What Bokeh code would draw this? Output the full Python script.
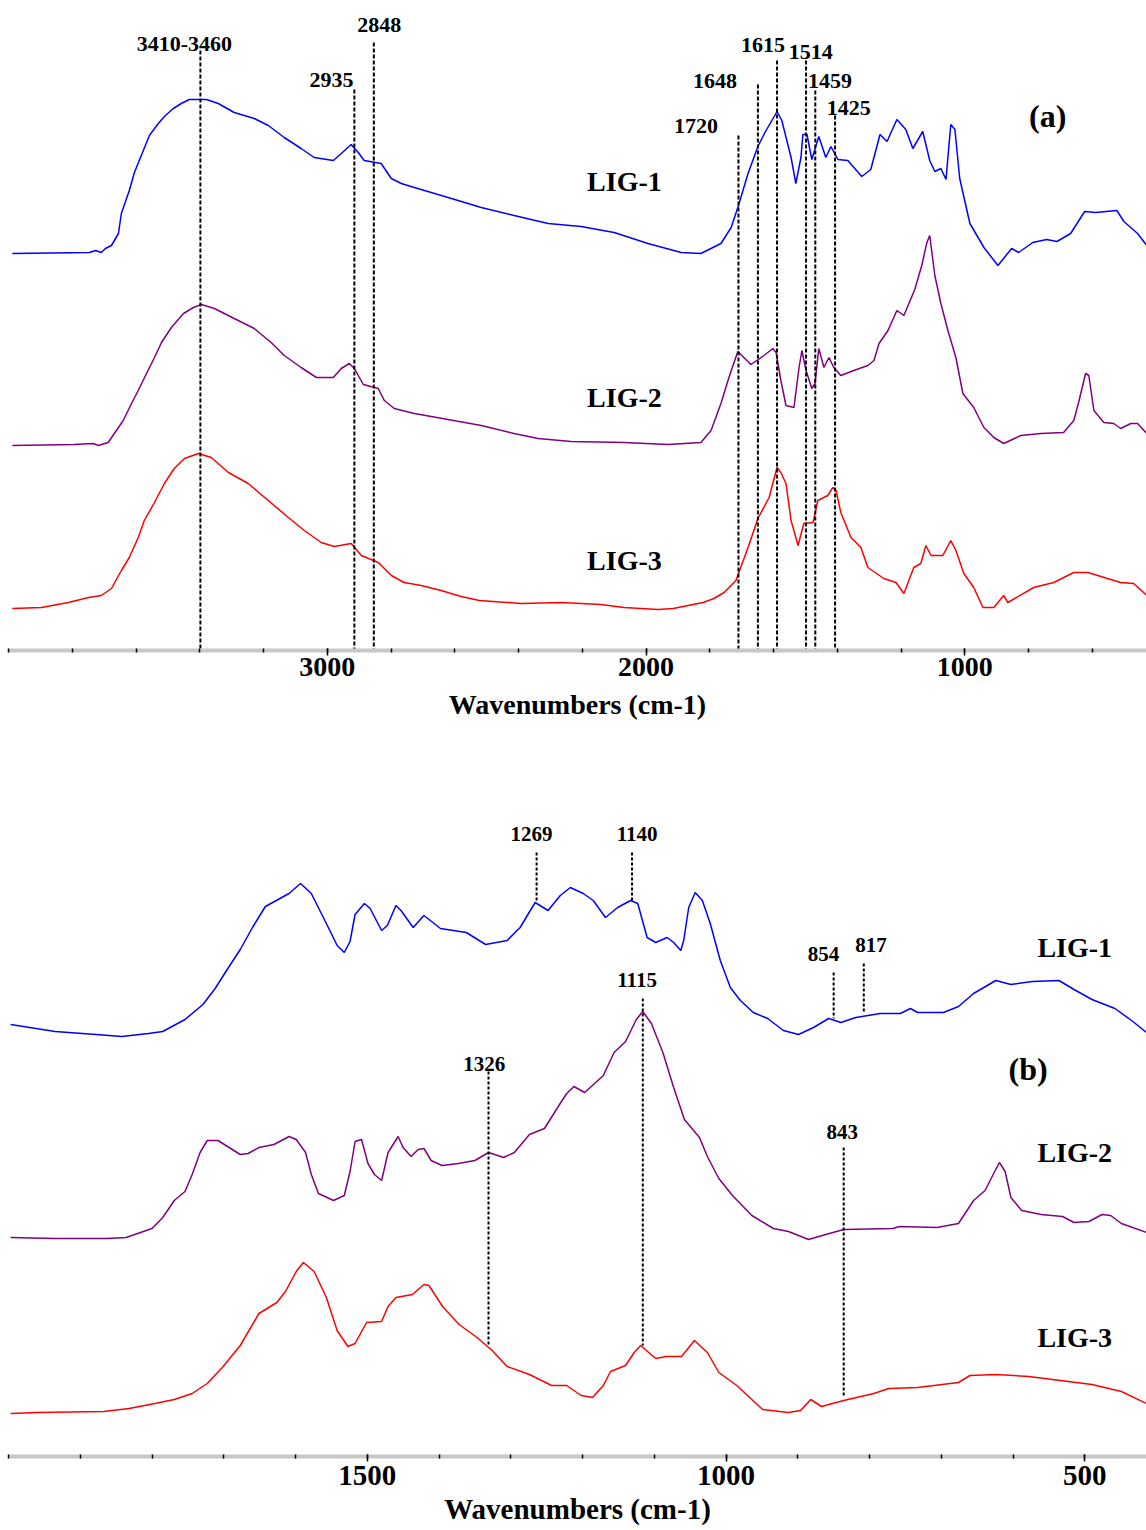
from bokeh.plotting import figure
from bokeh.models import Range1d, FixedTicker
from bokeh.layouts import column
from bokeh.core.properties import value
from bokeh.embed import file_html
from bokeh.resources import INLINE

FONT = "Liberation Serif"
BLUE, PURPLE, RED = "#0000FF", "#800080", "#FF0000"

# ---------------- panel (a): 4000-430 cm-1, stacked spectra (a.u.) ----------------
A_WN_LIG1 = [3988, 3746, 3727, 3709, 3696, 3677, 3655, 3646, 3621, 3605, 3577, 3558, 3530, 3511, 3483,
             3458, 3433, 3379, 3342, 3292, 3229, 3185, 3135, 3082, 3041, 2981, 2956, 2925, 2903, 2884,
             2831, 2799, 2768, 2727, 2621, 2517, 2414, 2307, 2204, 2100, 1994, 1890, 1828, 1765, 1733,
             1712, 1680, 1649, 1627, 1589, 1574, 1545, 1530, 1514, 1508, 1495, 1480, 1458, 1436, 1420,
             1398, 1367, 1323, 1295, 1266, 1244, 1213, 1185, 1163, 1132, 1110, 1094, 1075, 1059, 1044,
             1031, 1016, 984, 940, 896, 853, 831, 787, 743, 711, 668, 624, 589, 523, 501, 458, 429]
A_LIG1 = [394, 395, 397, 395, 399, 402, 414, 434, 457, 475, 497, 512, 524, 531, 539,
          544, 548, 548, 544, 535, 529, 522, 510, 499, 490, 487, 494, 503, 495, 487,
          484, 469, 464, 460, 450, 440, 432, 424, 421, 415, 404, 395, 394, 404, 420,
          440, 474, 501, 515, 536, 527, 490, 464, 490, 513, 513, 488, 511, 490, 501,
          488, 487, 471, 478, 513, 506, 528, 518, 499, 516, 487, 476, 479, 468, 523,
          518, 469, 424, 400, 382, 399, 395, 405, 408, 406, 414, 436, 435, 437, 426, 414, 402]

A_WN_LIG2 = [3988, 3796, 3734, 3718, 3687, 3668, 3640, 3614, 3593, 3567, 3542, 3520, 3489, 3451, 3420,
             3395, 3354, 3292, 3229, 3176, 3135, 3082, 3034, 2981, 2956, 2931, 2915, 2887, 2840, 2821,
             2790, 2727, 2621, 2517, 2414, 2339, 2235, 2069, 1931, 1828, 1796, 1765, 1740, 1712, 1671,
             1630, 1602, 1592, 1577, 1561, 1536, 1520, 1511, 1498, 1480, 1470, 1458, 1442, 1426, 1411,
             1389, 1348, 1304, 1285, 1269, 1241, 1213, 1191, 1157, 1135, 1119, 1110, 1094, 1075, 1053,
             1028, 1006, 972, 940, 909, 878, 824, 762, 690, 658, 643, 621, 611, 595, 564,
             533, 511, 479, 458, 429]
A_LIG2 = [202, 203, 204, 202, 205, 214, 227, 244, 257, 274, 290, 305, 320, 334, 340,
          343, 339, 329, 319, 305, 292, 280, 270, 270, 279, 284, 279, 263, 259, 247,
          239, 234, 228, 222, 214, 209, 206, 205, 203, 205, 217, 244, 270, 296, 283,
          292, 299, 295, 267, 242, 240, 280, 297, 277, 259, 264, 299, 280, 290, 280,
          272, 277, 282, 287, 304, 317, 337, 332, 358, 382, 405, 412, 372, 344, 317,
          290, 254, 240, 220, 210, 204, 212, 214, 215, 227, 245, 274, 272, 237, 225,
          224, 219, 224, 224, 214]

A_WN_LIG3 = [3988, 3897, 3812, 3749, 3709, 3677, 3646, 3621, 3593, 3574, 3542, 3511, 3480, 3448, 3404,
             3364, 3310, 3248, 3185, 3122, 3072, 3019, 2978, 2925, 2893, 2840, 2799, 2759, 2705, 2643,
             2580, 2523, 2392, 2266, 2141, 2069, 1962, 1915, 1821, 1787, 1755, 1718, 1680, 1649, 1614,
             1589, 1577, 1561, 1545, 1523, 1505, 1476, 1461, 1430, 1414, 1404, 1389, 1357, 1326, 1304,
             1254, 1216, 1191, 1160, 1138, 1122, 1106, 1069, 1044, 1028, 1003, 972, 943, 909, 878,
             865, 784, 721, 658, 614, 511, 470, 429]
A_LIG3 = [39, 40, 45, 50, 52, 59, 77, 90, 110, 127, 145, 164, 179, 189, 194,
          190, 175, 164, 147, 130, 117, 105, 101, 104, 92, 85, 72, 65, 62, 57,
          51, 47, 44, 45, 43, 40, 38, 39, 45, 49, 55, 67, 100, 129, 150,
          180, 175, 164, 127, 102, 124, 125, 147, 152, 160, 157, 135, 110, 100, 80,
          69, 65, 54, 80, 84, 102, 92, 92, 107, 97, 74, 60, 40, 40, 52,
          45, 60, 65, 75, 75, 65, 64, 52]

A_MARK_WN = [3398, 2915, 2854, 1710, 1649, 1589, 1498, 1469, 1407]
A_MARK_TOP = [597, 558, 605, 512, 563, 587, 587, 557, 532]
A_LABELS = ["3410-3460", "2935", "2848", "1720", "1648", "1615", "1514", "1459", "1425"]
A_LABEL_WN = [3448, 2987, 2837, 1843, 1784, 1633, 1483, 1423, 1364]
A_LABEL_V = [604, 568, 623, 522, 567, 603, 596, 567, 540]
A_SERIES_WN = [2185, 2185, 2185]
A_SERIES_V = [466, 250, 87]
A_MAJOR = [3000, 2000, 1000]
A_MINOR = [4000, 3800, 3600, 3400, 3200, 3000, 2800, 2600, 2400, 2200, 2000,
           1800, 1600, 1400, 1200, 1000, 800, 600]

# ---------------- panel (b): 2000-414 cm-1 ----------------
B_WN_LIG1 = [1997, 1935, 1878, 1842, 1805, 1785, 1754, 1729, 1712, 1697, 1677, 1660, 1642, 1609, 1593,
             1578, 1557, 1542, 1532, 1524, 1517, 1504, 1496, 1480, 1472, 1460, 1453, 1436, 1421, 1398,
             1362, 1335, 1305, 1287, 1266, 1248, 1231, 1217, 1199, 1185, 1168, 1151, 1133, 1123, 1110,
             1098, 1082, 1073, 1063, 1059, 1052, 1043, 1033, 1022, 1008, 994, 980, 962, 942, 920,
             899, 878, 857, 840, 819, 785, 757, 743, 733, 697, 676, 655, 624, 603, 573,
             536, 515, 490, 458, 433, 414]
B_LIG1 = [432, 425, 422, 420, 423, 425, 437, 452, 468, 485, 507, 529, 550, 563, 573,
          563, 533, 511, 504, 515, 542, 553, 548, 526, 531, 551, 546, 529, 541, 528,
          524, 512, 516, 529, 554, 546, 561, 569, 563, 556, 539, 549, 556, 553, 519,
          514, 519, 514, 506, 516, 549, 564, 556, 533, 496, 469, 456, 444, 438, 426,
          422, 429, 438, 434, 439, 443, 443, 448, 444, 444, 450, 463, 476, 472, 475,
          476, 467, 457, 448, 435, 424]

B_WN_LIG2 = [1997, 1935, 1863, 1836, 1800, 1785, 1769, 1754, 1744, 1733, 1723, 1708, 1697, 1677, 1666,
             1651, 1630, 1609, 1599, 1586, 1578, 1568, 1547, 1532, 1524, 1517, 1508, 1499, 1490, 1480,
             1471, 1457, 1450, 1439, 1429, 1421, 1411, 1396, 1373, 1350, 1331, 1310, 1295, 1274, 1253,
             1232, 1222, 1212, 1197, 1171, 1156, 1140, 1125, 1116, 1104, 1088, 1073, 1058, 1037, 1026,
             1010, 991, 964, 934, 913, 885, 861, 836, 768, 758, 706, 676, 655, 639, 627,
             619, 611, 603, 588, 561, 531, 515, 494, 476, 464, 449, 414]
B_LIG2 = [219, 218, 218, 219, 228, 239, 256, 265, 282, 304, 316, 316, 311, 302, 303,
          309, 312, 320, 317, 304, 282, 263, 256, 261, 285, 315, 317, 293, 282, 276,
          304, 320, 309, 300, 307, 308, 296, 291, 293, 296, 304, 299, 304, 322, 328,
          352, 363, 370, 364, 381, 404, 415, 437, 445, 433, 404, 369, 337, 319, 300,
          278, 261, 241, 228, 225, 217, 222, 227, 228, 230, 229, 233, 256, 266, 283,
          294, 285, 259, 246, 242, 240, 234, 235, 242, 241, 233, 224]

B_WN_LIG3 = [1997, 1960, 1867, 1832, 1796, 1769, 1744, 1723, 1702, 1677, 1651, 1626, 1614, 1599, 1589,
             1574, 1557, 1542, 1527, 1517, 1501, 1480, 1471, 1460, 1437, 1421, 1414, 1395, 1372, 1347,
             1326, 1305, 1274, 1243, 1222, 1202, 1186, 1171, 1161, 1140, 1128, 1119, 1098, 1083, 1062,
             1044, 1026, 1010, 985, 949, 913, 896, 882, 867, 836, 794, 773, 733, 676, 660,
             624, 578, 490, 449, 414]
B_LIG3 = [43, 44, 45, 48, 53, 57, 63, 73, 89, 111, 143, 154, 165, 185, 194,
          185, 159, 126, 110, 113, 134, 135, 150, 159, 162, 172, 171, 150, 132, 119,
          106, 90, 82, 71, 71, 61, 59, 71, 85, 91, 104, 111, 98, 100, 100,
          116, 104, 84, 71, 47, 44, 46, 57, 50, 56, 63, 68, 69, 74, 81,
          82, 80, 72, 65, 53]

B_MARK_WN = [1264, 1131, 850, 808, 1116, 1331, 836]
B_MARK_TOP = [604, 604, 484, 493, 458, 385, 309]
B_MARK_BOT = [554, 556, 438, 444, 111, 111, 61]
B_LABELS = ["1269", "1140", "854", "817", "1115", "1326", "843"]
B_LABEL_WN = [1271, 1124, 864, 798, 1124, 1337, 838]
B_LABEL_V = [623, 623, 503, 512, 477, 393, 325]
B_SERIES_WN = [566, 566, 566]
B_SERIES_V = [509, 304, 119]
B_MAJOR = [1500, 1000, 500]
B_MINOR = [2000, 1900, 1800, 1700, 1600, 1500, 1400, 1300, 1200, 1100, 1000,
           900, 800, 700, 600, 500]

SERIES = ["LIG-1", "LIG-2", "LIG-3"]


def style_axis(p, major, minor, tick_size, label_size, tick_standoff, label_standoff):
    ax = p.xaxis[0]
    ax.ticker = FixedTicker(ticks=major, minor_ticks=minor)
    ax.axis_line_color = "#c8c8c8"
    ax.axis_line_width = 4
    ax.major_tick_line_color = "black"
    ax.major_tick_line_width = 1.5
    ax.major_tick_in = 2
    ax.major_tick_out = 5
    ax.minor_tick_line_color = "black"
    ax.minor_tick_line_width = 1.5
    ax.minor_tick_in = 2
    ax.minor_tick_out = 2
    ax.major_label_text_font = FONT
    ax.major_label_text_font_style = "bold"
    ax.major_label_text_font_size = tick_size
    ax.major_label_text_color = "black"
    ax.major_label_standoff = tick_standoff
    ax.axis_label = "Wavenumbers (cm-1)"
    ax.axis_label_text_font = FONT
    ax.axis_label_text_font_style = "bold"
    ax.axis_label_text_font_size = label_size
    ax.axis_label_text_color = "black"
    ax.axis_label_standoff = label_standoff


def base_fig(height, xr, yr, top, bottom):
    p = figure(width=1146, height=height, x_range=Range1d(*xr), y_range=Range1d(*yr),
               output_backend="svg", toolbar_location=None, y_axis_location=None,
               min_border_top=top, min_border_bottom=bottom,
               min_border_left=8, min_border_right=0)
    p.outline_line_color = None
    p.xgrid.visible = False
    p.ygrid.visible = False
    p.background_fill_color = "white"
    return p


def texts(p, xs, ys, labels, size, align="center"):
    p.text(x=xs, y=ys, text=labels, text_font=value(FONT), text_font_style="bold",
           text_font_size=size, text_align=align, text_baseline="middle", text_color="black")


# ---- panel (a)
pa = base_fig(730, (4000, 430), (-3, 639), 8, 80)
style_axis(pa, A_MAJOR, A_MINOR, "28px", "28px", 2, 10)
pa.line(A_WN_LIG1, A_LIG1, line_color=BLUE, line_width=1.5)
pa.line(A_WN_LIG2, A_LIG2, line_color=PURPLE, line_width=1.5)
pa.line(A_WN_LIG3, A_LIG3, line_color=RED, line_width=1.5)
pa.segment(x0=A_MARK_WN, y0=A_MARK_TOP, x1=A_MARK_WN,
           y1=[pa.y_range.start] * len(A_MARK_WN),
           line_color="black", line_width=2, line_dash="4 2")
texts(pa, A_LABEL_WN, A_LABEL_V, A_LABELS, "22px")
texts(pa, A_SERIES_WN, A_SERIES_V, SERIES, "28px", align="left")
texts(pa, [740], [532], ["(a)"], "32px")

# ---- panel (b)
pb = base_fig(800, (2000, 414), (0, 696), 30, 74)
style_axis(pb, B_MAJOR, B_MINOR, "29px", "29px", 4, 5)
pb.line(B_WN_LIG1, B_LIG1, line_color=BLUE, line_width=1.5)
pb.line(B_WN_LIG2, B_LIG2, line_color=PURPLE, line_width=1.5)
pb.line(B_WN_LIG3, B_LIG3, line_color=RED, line_width=1.5)
pb.segment(x0=B_MARK_WN, y0=B_MARK_TOP, x1=B_MARK_WN, y1=B_MARK_BOT,
           line_color="black", line_width=2, line_dash="3 2")
texts(pb, B_LABEL_WN, B_LABEL_V, B_LABELS, "21px")
texts(pb, B_SERIES_WN, B_SERIES_V, SERIES, "28px", align="left")
texts(pb, [579], [388], ["(b)"], "32px")

layout = column(pa, pb)
open("out.html", "w").write(file_html(layout, INLINE, title="FTIR spectra"))
